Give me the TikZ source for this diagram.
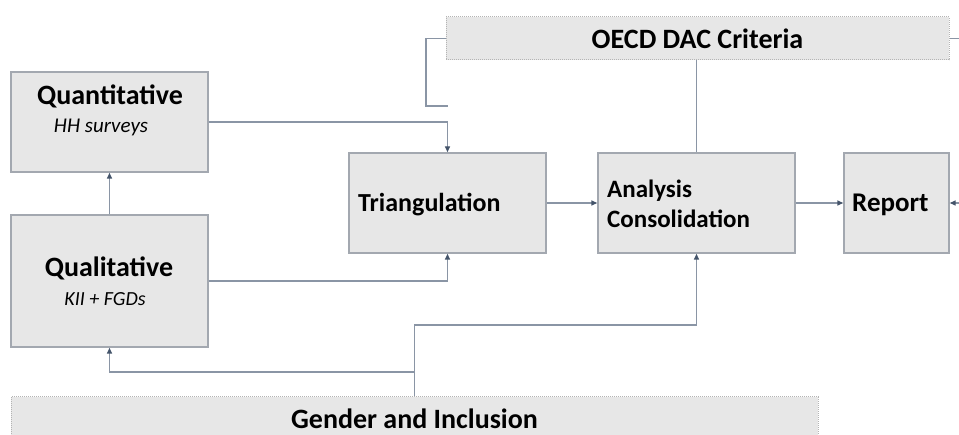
\documentclass[tikz,border=0pt]{standalone}
\usepackage{fontspec}
\setmainfont{Carlito}
\usetikzlibrary{arrows.meta}
\definecolor{boxfill}{HTML}{E7E7E7}
\definecolor{boxline}{HTML}{A3A8B0}
\definecolor{dotline}{HTML}{B4B4B4}
\definecolor{connline}{HTML}{8A95A5}
\definecolor{tipcol}{HTML}{44546A}
\tikzset{
  box/.style={draw=boxline, line width=1.4pt, fill=boxfill, inner sep=0pt},
  dotbox/.style={draw=dotline, line width=1pt, dash pattern=on 1pt off 1pt, fill=boxfill, inner sep=0pt},
  conn/.style={draw=connline, line width=1.4pt},
  arr/.style={conn, -{Triangle[length=6pt,width=5pt,fill=tipcol,color=tipcol]}},
  ttl/.style={inner sep=0pt, font=\bfseries\fontsize{28}{32}\selectfont},
  sub/.style={inner sep=0pt, font=\itshape\fontsize{21}{24}\selectfont},
}
\begin{document}
\begin{tikzpicture}[x=1pt,y=-1pt]
\useasboundingbox (0,0) rectangle (959,435);
\clip (0,0) rectangle (959,435);
% boxes
\node[box, minimum width=197pt, minimum height=100pt] (quant) at (109.5,122) {};
\node[box, minimum width=197pt, minimum height=132pt] (qual) at (109.5,281) {};
\node[box, minimum width=197pt, minimum height=100pt] (tri) at (447.5,203) {};
\node[box, minimum width=197pt, minimum height=100pt] (ana) at (696.5,203) {};
\node[box, minimum width=105pt, minimum height=100pt] (rep) at (896.5,203) {};
\node[dotbox, minimum width=503pt, minimum height=43pt, ttl] (oecd) at (697.5,38.5) {OECD DAC Criteria};
\node[dotbox, minimum width=807pt, minimum height=48pt] (gender) at (414.5,421) {};
% texts
\node[ttl] (genderT) at (414.5,418.5) {Gender and Inclusion};
\node[ttl] (quantT) at (110,96) {Quantitative};
\node[sub] (quantS) at (101,127) {HH surveys};
\node[ttl] (qualT) at (109,268) {Qualitative};
\node[sub, font=\itshape\fontsize{20}{24}\selectfont] (qualS) at (105,299) {KII + FGDs};
\node[ttl, anchor=west, font=\bfseries\fontsize{26}{30}\selectfont] (triT) at (358,205) {Triangulation};
\node[ttl, anchor=west, align=left, font=\bfseries\fontsize{25}{30}\selectfont] (anaT) at (607,204) {Analysis\\Consolidation};
\node[ttl, anchor=west, font=\bfseries\fontsize{27}{30}\selectfont] (repT) at (852,205) {Report};
% coordinates
\coordinate (oecdbend) at (426,106);
\coordinate (oecdout) at (959,38.5);
\coordinate (repin) at (959,203);
\coordinate (gturn) at (414.5,325);
\coordinate (gturn2) at (414.5,372);
% connectors
\draw[arr] (qual.north) -- (quant.south);
\draw[arr] (quant.east) -| (tri.north);
\draw[conn] (oecd.west) -| (oecdbend) -- (oecdbend -| tri.north);
\draw[arr] (qual.east) -| (tri.south);
\draw[arr] (tri.east) -- (ana.west);
\draw[arr] (ana.east) -- (rep.west);
\draw[conn] (oecd.south -| ana.north) -- (ana.north);
\draw[conn] (oecd.east) -- (oecdout);
\draw[arr] (repin) -- (rep.east);
\draw[arr] (gender.north) -- (gturn) -| (ana.south);
\draw[arr] (gturn2) -| (qual.south);
\end{tikzpicture}
\end{document}
